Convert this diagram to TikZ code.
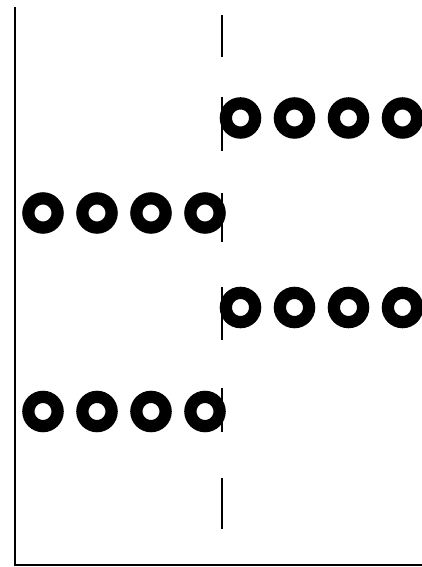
\documentclass[tikz,border=0pt]{standalone}
\usepackage{tikz}
\usetikzlibrary{positioning}

\begin{document}
\begin{tikzpicture}[x=1pt,y=1pt,node distance=54pt,on grid,
 ring/.style={circle,draw,line width=12.25pt,minimum size=29.25pt,inner sep=0pt,outer sep=0pt},
 axis/.style={line width=2.5pt},
 gap/.style={line width=2pt}]
\useasboundingbox (0,0) rectangle (422,567);
\coordinate (top) at (15,560);
\coordinate (origin) at (15,2);
\coordinate (end) at (422,2);
\draw[axis] (top) -- (origin) -- (end);
% middle line, one piece per gap
\foreach \a/\b [count=\n] in {552/510,470/416,374/325,280/227,179/135,89/38}{
 \coordinate (m\n a) at (222,\a);
 \coordinate (m\n b) at (222,\b);
 \draw[gap] (m\n a) -- (m\n b);
}
% rings
\node[ring] (a1) at (240.5,449) {};
\node[ring,right=of a1] (a2) {};
\node[ring,right=of a2] (a3) {};
\node[ring,right=of a3] (a4) {};
\node[ring] (b1) at (43,354) {};
\node[ring,right=of b1] (b2) {};
\node[ring,right=of b2] (b3) {};
\node[ring,right=of b3] (b4) {};
\node[ring] (c1) at (240.5,259.5) {};
\node[ring,right=of c1] (c2) {};
\node[ring,right=of c2] (c3) {};
\node[ring,right=of c3] (c4) {};
\node[ring] (d1) at (43,155.5) {};
\node[ring,right=of d1] (d2) {};
\node[ring,right=of d2] (d3) {};
\node[ring,right=of d3] (d4) {};
\end{tikzpicture}
\end{document}
